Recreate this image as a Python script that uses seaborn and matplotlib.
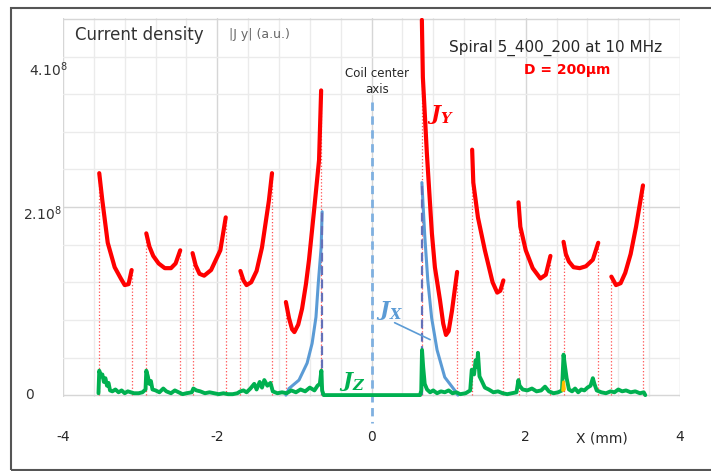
import matplotlib
matplotlib.use("Agg")
import matplotlib.pyplot as plt
from matplotlib.patches import Rectangle
from matplotlib.ticker import MultipleLocator
import numpy as np
import pandas as pd
import seaborn as sns

sns.set_style("white")
plt.rcParams['font.family'] = ['DejaVu Sans']
plt.rcParams['mathtext.fontset'] = 'custom'
plt.rcParams['mathtext.rm'] = 'DejaVu Sans'
plt.rcParams['mathtext.it'] = 'DejaVu Serif:italic:bold'

# Jy (red), one U-shaped curve per conductor turn, x in mm, y in 1e8 a.u.
jy_x = [
    [-3.53, -3.49, -3.42, -3.33, -3.25, -3.20, -3.15, -3.11],
    [-2.92, -2.88, -2.83, -2.76, -2.68, -2.60, -2.54, -2.48],
    [-2.32, -2.28, -2.23, -2.17, -2.08, -1.96, -1.89],
    [-1.70, -1.66, -1.62, -1.56, -1.49, -1.42, -1.33, -1.29],
    [-1.11, -1.07, -1.03, -1.00, -0.95, -0.90, -0.85, -0.81, -0.744, -0.68, -0.653],
    [0.653, 0.666, 0.718, 0.783, 0.822, 0.888, 0.93, 0.966, 1.0, 1.044, 1.11],
    [1.305, 1.32, 1.38, 1.47, 1.57, 1.63, 1.67, 1.71],
    [1.906, 1.93, 2.00, 2.09, 2.19, 2.26, 2.32],
    [2.49, 2.52, 2.56, 2.62, 2.70, 2.78, 2.87, 2.94],
    [3.11, 3.17, 3.23, 3.29, 3.36, 3.43, 3.52],
]
jy_y = [
    [2.36, 2.07, 1.62, 1.36, 1.24, 1.17, 1.18, 1.33],
    [1.72, 1.58, 1.48, 1.40, 1.35, 1.35, 1.40, 1.54],
    [1.51, 1.38, 1.29, 1.27, 1.33, 1.54, 1.89],
    [1.32, 1.22, 1.17, 1.20, 1.32, 1.57, 2.07, 2.36],
    [0.99, 0.82, 0.70, 0.67, 0.75, 0.92, 1.18, 1.44, 1.97, 2.50, 3.24],
    [3.99, 3.38, 2.57, 1.72, 1.36, 1.01, 0.76, 0.64, 0.68, 0.90, 1.31],
    [2.61, 2.26, 1.89, 1.54, 1.20, 1.09, 1.11, 1.22],
    [2.05, 1.79, 1.54, 1.35, 1.24, 1.28, 1.48],
    [1.63, 1.50, 1.42, 1.36, 1.35, 1.37, 1.44, 1.62],
    [1.26, 1.17, 1.19, 1.30, 1.50, 1.79, 2.23],
]

# Jx (blue), only next to the two innermost edges
jx_left_x = [-1.11, -1.07, -0.94, -0.835, -0.77, -0.72, -0.69, -0.653, -0.64]
jx_left_y = [0.0, 0.07, 0.16, 0.34, 0.55, 0.83, 1.19, 1.57, 1.95]
jx_right_x = [0.653, 0.69, 0.73, 0.78, 0.85, 0.95, 1.08, 1.12]
jx_right_y = [2.26, 1.70, 1.22, 0.82, 0.48, 0.19, 0.05, 0.0]

# Jz (green), small and noisy
jz_x = [-3.54, -3.53, -3.51, -3.49, -3.47, -3.45, -3.43, -3.41, -3.39, -3.36, -3.32,
        -3.28, -3.24, -3.20, -3.16, -3.12, -3.08, -3.02, -2.97, -2.93, -2.92, -2.90,
        -2.88, -2.86, -2.84, -2.80, -2.75, -2.70, -2.66, -2.60, -2.55, -2.50, -2.45,
        -2.40, -2.33, -2.31, -2.27, -2.22, -2.16, -2.10, -2.04, -1.98, -1.92, -1.86,
        -1.80, -1.74, -1.70, -1.66, -1.62, -1.57, -1.52, -1.49, -1.45, -1.42, -1.39,
        -1.35, -1.31, -1.28, -1.22, -1.16, -1.10, -1.04, -0.98, -0.92, -0.86, -0.80,
        -0.74, -0.70, -0.67, -0.65, -0.64, -0.62, 0.63, 0.645, 0.655, 0.67, 0.69,
        0.72, 0.76, 0.80, 0.85, 0.90, 0.95, 1.00, 1.05, 1.10, 1.15, 1.22, 1.28, 1.30,
        1.33, 1.35, 1.37, 1.38, 1.40, 1.43, 1.47, 1.52, 1.58, 1.64, 1.70, 1.76, 1.82,
        1.88, 1.905, 1.92, 1.96, 2.02, 2.08, 2.14, 2.20, 2.25, 2.30, 2.36, 2.42, 2.47,
        2.49, 2.51, 2.53, 2.56, 2.60, 2.64, 2.68, 2.72, 2.76, 2.80, 2.84, 2.87, 2.89,
        2.92, 2.98, 3.04, 3.10, 3.15, 3.20, 3.25, 3.30, 3.36, 3.42, 3.48, 3.53, 3.55]
jz_y = [0.02, 0.26, 0.20, 0.22, 0.14, 0.18, 0.10, 0.13, 0.05, 0.04, 0.06,
        0.03, 0.05, 0.02, 0.04, 0.03, 0.02, 0.02, 0.03, 0.06, 0.26, 0.20,
        0.12, 0.15, 0.06, 0.05, 0.03, 0.07, 0.04, 0.02, 0.05, 0.03, 0.01,
        0.02, 0.03, 0.07, 0.05, 0.04, 0.02, 0.03, 0.02, 0.01, 0.02, 0.01,
        0.01, 0.02, 0.04, 0.05, 0.03, 0.07, 0.12, 0.06, 0.14, 0.08, 0.16,
        0.10, 0.13, 0.04, 0.02, 0.03, 0.02, 0.05, 0.03, 0.06, 0.04, 0.08,
        0.05, 0.10, 0.12, 0.26, 0.05, 0.0, 0.0, 0.05, 0.48, 0.30, 0.12,
        0.06, 0.03, 0.05, 0.02, 0.04, 0.03, 0.05, 0.02, 0.03, 0.01, 0.02, 0.05, 0.27,
        0.22, 0.37, 0.30, 0.45, 0.20, 0.15, 0.08, 0.06, 0.03, 0.04, 0.02, 0.01, 0.02,
        0.03, 0.16, 0.10, 0.06, 0.05, 0.07, 0.04, 0.05, 0.09, 0.04, 0.02, 0.03, 0.05,
        0.43, 0.30, 0.18, 0.06, 0.04, 0.07, 0.03, 0.06, 0.05, 0.08, 0.10, 0.18, 0.12,
        0.05, 0.03, 0.02, 0.04, 0.03, 0.06, 0.04, 0.05, 0.03, 0.04, 0.02, 0.03, 0.0]

# small orange trace near x = 2.5
other_x = [2.48, 2.49, 2.50]
other_y = [0.05, 0.14, 0.06]

S = 1e8
RED, BLUE, GREEN = '#ff0000', '#5b9bd5', '#00b050'

rows = []
for i, (xs, ys) in enumerate(zip(jy_x, jy_y)):
    for a, b in zip(xs, ys):
        rows.append({'seg': i, 'x': a, 'jy': b * S})
jy = pd.DataFrame(rows)
jx = pd.DataFrame({'seg': [0] * len(jx_left_x) + [1] * len(jx_right_x),
                   'x': jx_left_x + jx_right_x,
                   'jx': [v * S for v in jx_left_y + jx_right_y]})
jz = pd.DataFrame({'x': jz_x, 'jz': [v * S for v in jz_y]})

fig = plt.figure(figsize=(7.11, 4.71), dpi=100)
ax = fig.add_axes([63 / 711, 1 - 397 / 471, 617 / 711, 379 / 471])

# thin dotted lines at every conductor edge
edge_x = [v for xs in jy_x for v in (xs[0], xs[-1])]
edge_y = [v * S for ys in jy_y for v in (ys[0], ys[-1])]
ax.vlines(edge_x, 0, edge_y, colors='#ff5050', linestyles=':', lw=0.9, zorder=2)

sns.lineplot(data=jy, x='x', y='jy', units='seg', estimator=None, sort=False,
             color=RED, lw=3.0, ax=ax, zorder=4, legend=False)
sns.lineplot(data=jx, x='x', y='jx', units='seg', estimator=None, sort=False,
             color=BLUE, lw=2.2, ax=ax, zorder=3, legend=False)
ax.vlines([jx_left_x[-1], jx_right_x[0]], 0, [jx_left_y[-1] * S, jx_right_y[0] * S],
          colors='#6470b8', linestyles=(0, (4, 2)), lw=1.6, zorder=3)
sns.lineplot(data=jz, x='x', y='jz', estimator=None, sort=False,
             color=GREEN, lw=2.8, ax=ax, zorder=5, legend=False)
ax.plot(other_x, [v * S for v in other_y], color='#ffc000', lw=2.2, zorder=6)

# coil center axis
ax.plot([0, 0], [3.12 * S, -0.30 * S], color='#7fb0e0', lw=2, ls=(0, (3, 2)),
        clip_on=False, zorder=3)
ax.text(0.07, 3.34 * S, 'Coil center\naxis', ha='center', va='center',
        fontsize=8.5, linespacing=1.3)

ax.set_xlim(-4, 4)
ax.set_ylim(-0.02 * S, 4.01 * S)
ax.xaxis.set_major_locator(MultipleLocator(2))
ax.xaxis.set_minor_locator(MultipleLocator(0.4))
ax.yaxis.set_major_locator(MultipleLocator(2 * S))
ax.yaxis.set_minor_locator(MultipleLocator(0.4 * S))
ax.grid(which='minor', color='#ebebeb', lw=1)
ax.grid(which='major', color='#d6d6d6', lw=1)
ax.set_axisbelow(True)
for sp in ax.spines.values():
    sp.set_visible(False)
ax.tick_params(which='both', length=0)
ax.tick_params(axis='x', pad=24, labelsize=10)
ax.tick_params(axis='y', labelleft=False)
ax.set_xticks([-4, -2, 0, 2, 4])
ax.set_xticklabels(['-4', '-2', '0', '2', '4'])
ax.set_xlabel('')
ax.set_ylabel('')

yt = ax.get_yaxis_transform()
ax.text(-0.055, 0, '0', transform=yt, ha='center', va='center', fontsize=10, color='#333333')
ax.text(-0.002, 2.03 * S, r'$2.10^{8}$', transform=yt, ha='right', va='top',
        fontsize=10, color='#333333')
ax.text(0.008, 3.56 * S, r'$4.10^{8}$', transform=yt, ha='right', va='top',
        fontsize=10, color='#333333')

# curve labels
ax.text(0.89, 2.98 * S, r'$J_Y$', color=RED, fontsize=15, ha='center', va='center')
ax.text(0.235, 0.90 * S, r'$J_X$', color=BLUE, fontsize=15, ha='center', va='center')
ax.text(-0.25, 0.14 * S, r'$J_Z$', color=GREEN, fontsize=15, ha='center', va='center')
ax.plot([0.30, 0.76], [0.77 * S, 0.59 * S], color=BLUE, lw=1.2, zorder=6)

fig.text(75 / 711, 0.926, 'Current density', fontsize=12,
         color='#333333', ha='left', va='center')
fig.text(0.322, 0.926, '|J y| (a.u.)', fontsize=9, color='#666666', ha='left', va='center')
fig.text(0.781, 0.898, 'Spiral 5_400_200 at 10 MHz', fontsize=11, ha='center', va='center')
fig.text(0.798, 0.851, 'D = 200µm', fontsize=10, color=RED, weight='bold',
         ha='center', va='center')
fig.text(602 / 711, 1 - 438 / 471, 'X (mm)', fontsize=10, ha='center', va='center')

fig.patches.append(Rectangle((11 / 711, 1 / 471), 1.0, 462 / 471, transform=fig.transFigure,
                             fill=False, ec='#555555', lw=1.5))

fig.savefig('out.png', dpi=100)
